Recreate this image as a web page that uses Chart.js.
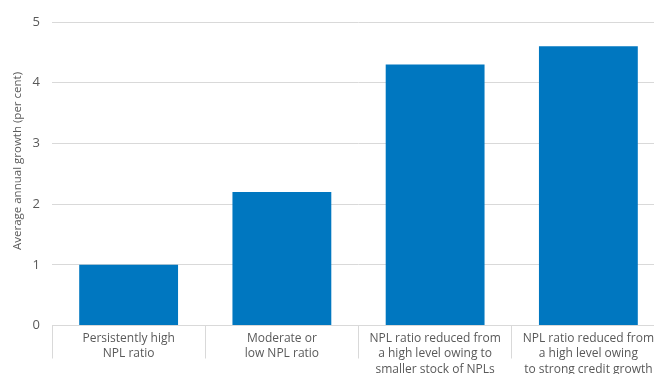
<!DOCTYPE html>
<html>
<head>
<meta charset="utf-8">
<script src="https://cdn.jsdelivr.net/npm/chart.js@4/dist/chart.umd.min.js"></script>
<style>
  html, body { margin: 0; padding: 0; background: #fff; overflow: hidden; }
  #wrap { width: 668px; height: 374px; }
</style>
</head>
<body>
<div id="wrap"><canvas id="c" width="668" height="374"></canvas></div>
<script>
// Average annual growth by NPL-ratio group
const categories = [
  ['Persistently high', 'NPL ratio'],
  ['Moderate or', 'low NPL ratio'],
  ['NPL ratio reduced from', 'a high level owing to', 'smaller stock of NPLs'],
  ['NPL ratio reduced from', 'a high level owing', 'to strong credit growth']
];
const growth = [1.0, 2.2, 4.3, 4.6];
const yTicks = [0, 1, 2, 3, 4, 5];
const yTitle = 'Average annual growth (per cent)';

const grey = '#595959';
const gridGrey = '#d9d9d9';
const fontFamily = '"Open Sans", "Liberation Sans", sans-serif';

// Vertical axis title, placed a little above the middle of the value axis
const yTitlePlugin = {
  id: 'yTitle',
  afterDraw(chart) {
    const ctx = chart.ctx;
    ctx.save();
    ctx.translate(18, 161);
    ctx.rotate(-Math.PI / 2);
    ctx.fillStyle = grey;
    ctx.font = '11.5px ' + fontFamily;
    ctx.textAlign = 'center';
    ctx.textBaseline = 'middle';
    ctx.fillText(yTitle, 0, 0);
    ctx.restore();
  }
};

new Chart(document.getElementById('c'), {
  type: 'bar',
  data: {
    labels: categories,
    datasets: [{
      data: growth,
      backgroundColor: '#0077c0',
      borderWidth: 0,
      categoryPercentage: 1,
      barPercentage: 0.645
    }]
  },
  plugins: [yTitlePlugin],
  options: {
    responsive: false,
    animation: false,
    layout: { padding: { left: 0, right: 3, top: 22, bottom: 0 } },
    plugins: { legend: { display: false }, tooltip: { enabled: false } },
    scales: {
      x: {
        offset: true,
        grid: {
          display: true,
          drawOnChartArea: false,
          drawTicks: true,
          tickLength: 33,
          color: gridGrey,
          lineWidth: 1
        },
        border: { display: true, color: gridGrey, width: 1 },
        ticks: {
          color: grey,
          padding: -28,
          maxRotation: 0,
          autoSkip: false,
          font: { family: fontFamily, size: 12, lineHeight: 1.3 }
        },
        afterFit: (s) => { s.height = 48.5; }
      },
      y: {
        min: 0,
        max: 5,
        afterBuildTicks: (s) => { s.ticks = yTicks.map(v => ({ value: v })); },
        grid: {
          color: gridGrey,
          lineWidth: 1,
          drawTicks: false
        },
        border: { display: false },
        ticks: {
          color: grey,
          padding: 12,
          font: { family: fontFamily, size: 13 }
        },
        afterFit: (s) => { s.width = 52; }
      }
    }
  }
});
</script>
</body>
</html>
